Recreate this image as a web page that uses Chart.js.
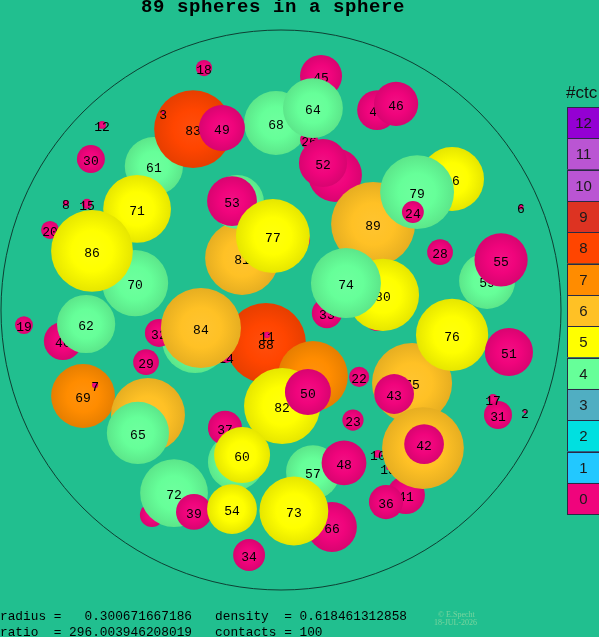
<!DOCTYPE html>
<html>
<head>
<meta charset="utf-8">
<script src="https://cdn.jsdelivr.net/npm/chart.js@4.4.1/dist/chart.umd.min.js"></script>
<style>
html,body{margin:0;padding:0;background:#21bf8f;}
canvas{display:block;}
</style>
</head>
<body>
<canvas id="c" width="599" height="637"></canvas>
<script>
// ---- data (units: percent of the container sphere radius; back-to-front order) ----
const sphereLabels = ["61","83","3","68","49","45","26","64","","52","47","46","18","12","30","8","15","20","81","","53","","77","71","70","86","16","89","79","24","6","28","59","55","33","","80","74","75","76","43","51","10","13","41","","42","36","31","17","2","22","23","","32","88","14","84","","82","11","50","40","62","19","29","69","7","","65","","37","60","57","48","66","73","","72","39","54","34"];
const sphereX = [-45.4,-31.4,-42.1,-1.8,-21.1,14.3,10.0,11.4,19.3,15.0,34.3,41.1,-27.5,-63.9,-67.9,-76.8,-69.3,-82.5,-13.9,-15.7,-17.5,6.8,-2.9,-51.4,-52.1,-67.5,61.1,32.9,48.6,47.1,85.7,56.8,73.6,78.6,16.4,34.3,36.4,23.2,46.8,61.1,40.4,81.4,34.6,38.2,44.6,50.7,51.1,37.5,77.5,75.7,87.1,27.9,25.7,-30.7,-43.6,-5.4,-19.6,-28.6,11.4,0.4,-5.0,9.6,-77.9,-69.6,-91.8,-48.2,-70.7,-66.4,-47.5,-51.1,-16.1,-20.0,-13.9,11.4,22.5,18.2,4.6,-46.1,-38.2,-31.1,-17.5,-11.4];
const sphereY = [51.4,64.6,70.4,66.8,65.0,83.6,60.7,72.1,48.2,52.5,71.4,73.6,86.4,66.1,53.9,38.2,37.9,28.6,18.6,38.6,38.9,25.0,26.4,36.1,9.6,21.1,46.8,30.7,42.1,35.0,36.8,20.7,10.4,17.9,-1.1,-2.9,5.4,9.6,-26.1,-8.9,-30.0,-15.0,-51.4,-56.4,-66.1,-49.3,-47.9,-68.6,-37.5,-31.8,-36.4,-23.9,-39.3,-10.7,-8.2,-11.8,-16.8,-6.4,-23.6,-34.3,-8.9,-29.3,-11.1,-5.0,-5.4,-18.6,-30.7,-26.8,-37.5,-43.9,-54.3,-42.1,-51.8,-57.9,-54.6,-77.5,-71.8,-73.2,-65.4,-72.1,-71.1,-87.5];
const sphereR = [10.4,13.9,0.5,11.4,8.2,7.5,3.2,10.7,9.6,8.6,7.1,7.9,2.9,1.4,5.0,1.1,1.8,3.2,13.2,9.6,8.9,3.6,13.2,12.1,11.8,14.6,11.4,15.0,13.2,3.9,0.9,4.6,10.0,9.5,5.4,4.6,12.9,12.5,14.3,12.9,7.1,8.6,1.4,0.7,6.8,14.6,7.1,6.1,5.0,1.8,0.5,3.6,3.8,11.8,5.0,14.3,2.1,14.3,12.5,13.6,1.1,8.2,6.8,10.4,3.2,4.6,11.4,1.1,13.2,11.1,10.0,6.1,10.0,9.6,8.0,8.9,12.3,4.3,12.1,6.4,8.9,5.7];
const sphereContacts = [4,8,0,4,0,0,0,4,0,0,0,0,0,0,0,0,0,0,6,4,0,0,5,5,4,5,5,6,4,0,0,0,4,0,0,0,5,4,6,5,0,0,0,0,0,6,0,0,0,0,0,0,0,4,0,8,0,6,7,5,0,0,0,4,0,0,7,0,6,4,4,0,5,4,0,0,5,0,4,0,5,0];

const contactLevels = [12,11,10,9,8,7,6,5,4,3,2,1,0];
const contactColors = ["#f0047c","#22c8ff","#00e0e0","#50aec2","#66ff99","#ffff00","#ffc125","#ff8c00","#ff4500","#dd3322","#ba55d3","#ba55d3","#9400d3"];

const titleText = "89 spheres in a sphere";
const infoLines = ["radius =   0.300671667186   density  = 0.618461312858",
                   "ratio  = 296.003946208019   contacts = 100"];
const legendTitle = "#ctc";
const BG = "#21bf8f";

// ---- helpers ----
function shade(hex, f) {
  const n = parseInt(hex.slice(1), 16);
  let r = n >> 16, g = (n >> 8) & 255, b = n & 255;
  if (f < 0) { r *= 1 + f; g *= 1 + f; b *= 1 + f; }
  else { r += (255 - r) * f; g += (255 - g) * f; b += (255 - b) * f; }
  return `rgb(${Math.round(r)},${Math.round(g)},${Math.round(b)})`;
}
function pixRadius(chart, s) {
  const xs = chart.scales.x;
  if (!xs) return 0;
  const v = Math.abs(xs.getPixelForValue(s) - xs.getPixelForValue(0));
  return isFinite(v) ? v : 0;
}
function radiusOpt(ctx) { return ctx.raw ? pixRadius(ctx.chart, ctx.raw.s) : 0; }
function sphereFill(base) {
  return (ctx) => {
    if (ctx.type !== 'data' || !ctx.raw) return base;
    const chart = ctx.chart, xs = chart.scales.x, ys = chart.scales.y;
    if (!xs || !ys) return base;
    const cx = xs.getPixelForValue(ctx.raw.x), cy = ys.getPixelForValue(ctx.raw.y);
    const rad = Math.max(pixRadius(chart, ctx.raw.s), 0.5);
    if (!isFinite(cx) || !isFinite(cy) || !isFinite(rad)) return base;
    const g = chart.ctx.createRadialGradient(cx, cy, 0, cx, cy, rad);
    g.addColorStop(0, shade(base, 0.05));
    g.addColorStop(0.5, base);
    g.addColorStop(1, shade(base, -0.1));
    return g;
  };
}

// ---- datasets ----
const datasets = [{
  data: [{x: 0, y: 0, s: 100}],
  pointBackgroundColor: 'rgba(0,0,0,0)',
  pointBorderColor: '#0e3f33',
  pointBorderWidth: 1,
  pointRadius: radiusOpt,
  clip: false,
  order: 1
}];
sphereLabels.forEach((lab, i) => {
  const base = contactColors[sphereContacts[i]];
  datasets.push({
    sphereLabel: lab,
    data: [{x: sphereX[i], y: sphereY[i], s: sphereR[i]}],
    pointBackgroundColor: sphereFill(base),
    pointBorderColor: 'rgba(0,0,0,0)',
    pointBorderWidth: 0,
    pointRadius: radiusOpt,
    clip: false,
    order: -i
  });
});

// ---- plugins ----
const bgPlugin = {
  id: 'bg',
  beforeDraw(chart) {
    const c = chart.ctx;
    c.save(); c.fillStyle = BG; c.fillRect(0, 0, chart.width, chart.height); c.restore();
  }
};
const labelPlugin = {
  id: 'sphereLabels',
  afterDatasetDraw(chart, args) {
    const ds = chart.data.datasets[args.index];
    if (!ds.sphereLabel) return;
    const el = args.meta.data[0];
    const c = chart.ctx;
    c.save();
    c.font = '13px "Liberation Mono", monospace';
    c.fillStyle = '#000';
    c.textAlign = 'center';
    c.textBaseline = 'alphabetic';
    c.fillText(ds.sphereLabel, el.x, el.y + 6);
    c.restore();
  }
};
const decoPlugin = {
  id: 'deco',
  afterDraw(chart) {
    const c = chart.ctx;
    c.save();
    c.fillStyle = '#000';
    c.font = 'bold 19px "Liberation Mono", monospace';
    c.textAlign = 'center';
    c.textBaseline = 'alphabetic';
    try { c.letterSpacing = '0.6px'; } catch (e) {}
    c.fillText(titleText, 273, 12);
    try { c.letterSpacing = '0px'; } catch (e) {}
    c.textAlign = 'left';
    c.font = '12.8px "Liberation Mono", monospace';
    c.fillText(infoLines[0], 0, 620);
    c.fillText(infoLines[1], 0, 636);
    c.fillStyle = 'rgba(190,230,170,0.55)';
    c.font = '8px "Liberation Serif", serif';
    c.fillText('\u00A9 E.Specht', 438, 617);
    c.fillText('18-JUL-2026', 434, 625);
    c.fillStyle = '#111';
    c.font = '17px "Liberation Sans", Arial, sans-serif';
    c.fillText(legendTitle, 566, 98);
    const top = 107, h = 31.33, x0 = 567, w = 40;
    contactLevels.forEach((lvl, i) => {
      const y = top + i * h;
      c.fillStyle = contactColors[lvl];
      c.fillRect(x0, y, w, h);
      c.strokeStyle = '#2a2a44';
      c.lineWidth = 1;
      c.strokeRect(x0 + 0.5, Math.round(y) + 0.5, w, Math.round(h));
      c.fillStyle = '#1a1a1a';
      c.font = '15px "Liberation Sans", Arial, sans-serif';
      c.textAlign = 'center';
      c.fillText(String(lvl), 583.5, y + h / 2 + 5.5);
      c.textAlign = 'left';
    });
    c.restore();
  }
};

new Chart(document.getElementById('c'), {
  type: 'scatter',
  data: { datasets },
  options: {
    responsive: false,
    animation: false,
    events: [],
    layout: { padding: { left: 1, right: 38, top: 30, bottom: 47 } },
    scales: {
      x: { type: 'linear', min: -100, max: 100, display: false },
      y: { type: 'linear', min: -100, max: 100, display: false }
    },
    plugins: { legend: { display: false }, tooltip: { enabled: false }, title: { display: false }, colors: { enabled: false } }
  },
  plugins: [bgPlugin, labelPlugin, decoPlugin]
});
</script>
</body>
</html>
